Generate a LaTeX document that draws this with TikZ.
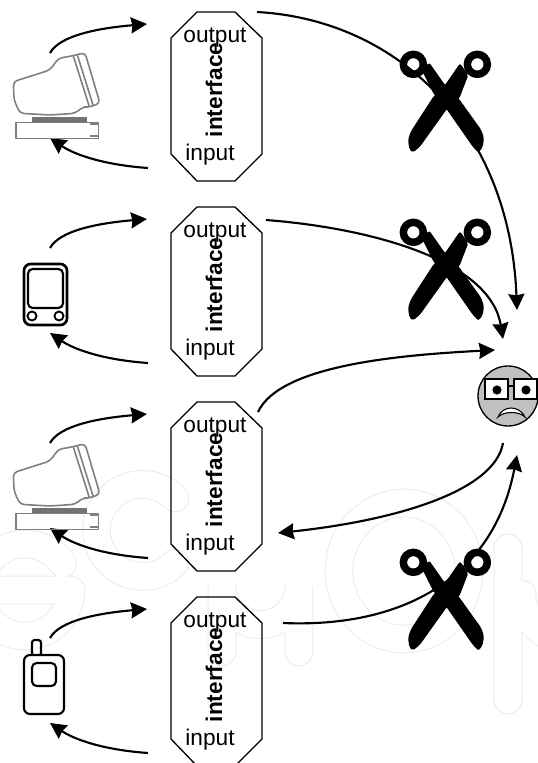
\documentclass[tikz,border=0pt]{standalone}
\usepackage{fontspec}
\setmainfont{Liberation Sans}
\usetikzlibrary{arrows.meta}
\tikzset{
  conn/.style={line width=1.6pt,-{Stealth[length=12pt,width=12pt,inset=1pt]}},
  octa/.style={draw=black,line width=1pt,fill=none,line join=miter},
  lbl/.style={font=\fontsize{17}{17}\selectfont,inner sep=0pt},
  vlbl/.style={font=\fontsize{17}{17}\selectfont\bfseries,inner sep=0pt,rotate=90},
  wm/.style={draw=black!8,line width=0.75pt,double=white,double distance=20pt,line cap=round},
  mon/.style={draw=black!50,line width=1.2pt,line join=round},
  dev/.style={draw=black,line width=1.6pt,rounded corners=3.5pt,fill=white}
}
\definecolor{facegray}{HTML}{C0C0C0}
\newcommand{\Scissors}[1]{%
  \begin{scope}[shift={(380,#1)},x=0.25pt,y=-0.25pt]
    \fill[black,rounded corners=1.5pt] (125,120) -- (148,98) -- (195,165) -- (238,208) -- (304,300) -- (312,325) -- (308,352) -- (295,368) -- (278,350) -- (200,238) -- (160,190) -- cycle;
    \fill[black,rounded corners=1.5pt] (265,135) -- (240,100) -- (195,165) -- (160,200) -- (92,305) -- (84,330) -- (88,358) -- (98,368) -- (120,350) -- (200,238) -- (238,205) -- cycle;
    \draw[black,line width=5.6pt] (100,103) circle (30);
    \draw[black,line width=5.6pt] (292,103) circle (30);
  \end{scope}}
\newcommand{\Monitor}[1]{%
  \begin{scope}[shift={(0,#1)},x=0.25pt,y=-0.25pt]
    \draw[mon,rounded corners=3pt] (40,245) -- (150,210) -- (175,175) -- (215,168) -- (255,158) -- (300,310) -- (265,322) -- (250,320) -- (225,340) -- (150,345) -- (60,340) -- (42,300) -- cycle;
    \draw[mon] (220,168) -- (268,320) (232,165) -- (280,318);
    \fill[black!55] (95,352) rectangle (260,368);
    \draw[mon] (48,368) rectangle (295,415);
    \draw[mon,line width=1.6pt] (270,373) -- (293,373) (270,408) -- (293,408);
  \end{scope}}
\begin{document}
\begin{tikzpicture}[x=0.75pt,y=-0.75pt]
\useasboundingbox (0,0) rectangle (538,763);
% watermark
\draw[wm] (71,590) arc (0:325:46) (-21,590) -- (71,590);
\draw[wm] (175,563) arc (45:315:46);
\draw[wm] (222,652) -- (222,586) arc (180:0:38.5) -- (299,652);
\draw[wm] (404,571) ellipse (65 and 68);
\draw[wm] (508,700) -- (508,548) (522,594) arc (180:60:46);
% rows
\foreach \i/\off in {1/0,2/195,3/390,4/585}{
  \begin{scope}[shift={(0,\off)}]
    \draw[octa] (197,12) -- (235,12) -- (262,38) -- (262,154) -- (235,181) -- (197,181) -- (171,154) -- (171,38) -- cycle;
    \node[vlbl] (iface\i) at (214,90) {interface};
    \node[lbl] (out\i) at (215,38) {output};
    \node[lbl] (in\i) at (210,155) {input};
    \coordinate (df\i) at (50,53);
    \coordinate (if\i) at (147,24);
    \coordinate (ib\i) at (148,168);
    \coordinate (db\i) at (50,138);
  \end{scope}
  \draw[conn] (df\i) .. controls +(10,-18) and +(-47,4) .. (if\i);
  \draw[conn] (ib\i) .. controls +(-43,-3) and +(25,17) .. (db\i);
}
% devices
\Monitor{0}
\Monitor{391}
\begin{scope}
  \node[dev,minimum width=32.25pt,minimum height=45.75pt,inner sep=0pt,line width=2pt,rounded corners=5pt] (pda) at (45.5,294.5) {};
  \node[dev,minimum width=26.25pt,minimum height=29.25pt,inner sep=0pt] (pdascr) at (45.5,288.5) {};
  \draw[black,line width=1.4pt] (32,316) circle (4.5) (59,316) circle (4.5);
\end{scope}
\node[dev,minimum width=6.75pt,minimum height=12pt,inner sep=0pt,rounded corners=2pt] (ant) at (36.5,648) {};
\node[dev,minimum width=30pt,minimum height=44.25pt,inner sep=0pt,rounded corners=4.5pt] (phone) at (44,684.5) {};
\node[dev,minimum width=18pt,minimum height=17.25pt,inner sep=0pt] (phscr) at (44,674.5) {};
% face
\node[circle,draw=black,line width=1pt,fill=facegray,minimum size=45pt,inner sep=0pt] (face) at (508,396) {};
\draw[black,line width=1pt,fill=white] (485,379) rectangle (508,399);
\draw[black,line width=1pt,fill=white] (514,379) rectangle (537,399);
\draw[black,line width=2.2pt] (508,386) -- (514,386);
\fill[black] (497,390) circle (4.6) (526,390) circle (4.6);
\draw[black,line width=0.8pt,fill=white] (498,417) .. controls (503,405) and (519,405) .. (525,417) .. controls (519,411) and (504,411) .. (498,417) -- cycle;
% long connectors
\coordinate (tA) at (517,310);
\coordinate (tB) at (503,339);
\coordinate (tC) at (495,350);
\coordinate (sD) at (503,443);
\coordinate (tD) at (278,533);
\coordinate (sA) at (257,12);
\coordinate (sB) at (266,220);
\coordinate (sC) at (258,412);
\coordinate (sE) at (283,623);
\coordinate (tE) at (517,455);
\Scissors{30}
\Scissors{198}
\Scissors{528}
\draw[conn] (sA) .. controls (400,20) and (510,130) .. (tA);
\draw[conn] (sB) .. controls (370,228) and (490,260) .. (tB);
\draw[conn] (sC) .. controls (280,365) and (400,355) .. (tC);
\draw[conn] (sD) .. controls (495,490) and (400,520) .. (tD);
\draw[conn] (sE) .. controls (400,628) and (493,580) .. (tE);
\end{tikzpicture}
\end{document}
